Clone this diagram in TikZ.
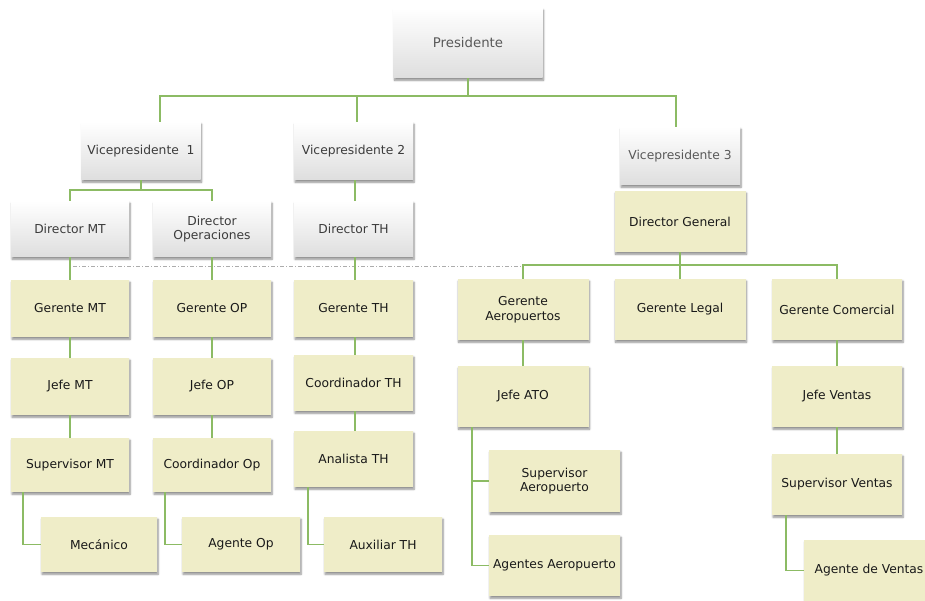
\documentclass[tikz,border=0pt]{standalone}
\usepackage{fontspec}
\setmainfont{DejaVu Sans}
\usetikzlibrary{calc,shadows,shadows.blur}

\definecolor{linegreen}{HTML}{8CBB64}
\definecolor{boxkhaki}{HTML}{EFEDC8}
\definecolor{boxgrey}{HTML}{DEDEDE}
\definecolor{txtgrey}{HTML}{3C3C3C}

\tikzset{
  unit/.style={x=1pt,y=-1pt},
  orgbox/.style={rectangle, align=center, inner xsep=2pt, inner ysep=2pt,
    font={\fontsize{12.3}{14.5}\selectfont},
    blur shadow={shadow xshift=1pt, shadow yshift=-2.2pt, shadow blur radius=2pt,
                 shadow blur steps=6, shadow opacity=45}},
  greybox/.style={orgbox, top color=white, middle color=white, bottom color=boxgrey, text=txtgrey},
  khakibox/.style={orgbox, fill=boxkhaki, text=black!90},
  sz/.style 2 args={minimum width=#1pt, minimum height=#2pt},
  conn/.style={draw=linegreen, line width=1.6pt},
  guide/.style={draw=gray!65, line width=0.8pt, dash pattern=on 4pt off 2pt on 1pt off 2pt}
}

\begin{document}
\begin{tikzpicture}[unit]
\useasboundingbox (0,0) rectangle (925,601);
\clip (0,0) rectangle (925,601);

% top levels
\node[greybox, sz={149}{70}, font={\fontsize{13.3}{15}\selectfont}, text=black!65] (P) at (468,43) {Presidente};
\node[greybox, sz={119}{58}] (V1) at (141,151) {Vicepresidente~~1};
\node[greybox, sz={119}{58}] (V2) at (353.5,151) {Vicepresidente 2};
\node[greybox, sz={120}{58}, text=black!65] (V3) at (680,156) {Vicepresidente 3};

% directors
\node[greybox, sz={118}{56}] (DMT) at (70,229) {Director MT};
\node[greybox, sz={118}{56}] (DOP) at (212,229) {Director\\Operaciones};
\node[greybox, sz={119}{56}] (DTH) at (353.5,229) {Director TH};
\node[khakibox, sz={131}{61}] (DG) at (680,221.5) {Director General};

% managers
\node[khakibox, sz={118}{57}] (GMT) at (70,308.5) {Gerente MT};
\node[khakibox, sz={118}{57}] (GOP) at (212,308.5) {Gerente OP};
\node[khakibox, sz={119}{57}] (GTH) at (353.5,308.5) {Gerente TH};
\node[khakibox, sz={131}{61}] (GAer) at (523,309.5) {Gerente\\Aeropuertos};
\node[khakibox, sz={131}{61}] (GLeg) at (680,309.5) {Gerente Legal};
\node[khakibox, sz={130}{61}] (GCom) at (837,309.5) {Gerente Comercial};

% heads
\node[khakibox, sz={118}{57}] (JMT) at (70,386.5) {Jefe MT};
\node[khakibox, sz={118}{57}] (JOP) at (212,386.5) {Jefe OP};
\node[khakibox, sz={119}{56}] (CTH) at (353.5,383) {Coordinador TH};
\node[khakibox, sz={131}{61}] (JATO) at (523,396.5) {Jefe ATO};
\node[khakibox, sz={130}{61}] (JVen) at (837,396.5) {Jefe Ventas};

% supervisors
\node[khakibox, sz={118}{54}] (SMT) at (70,465) {Supervisor MT};
\node[khakibox, sz={118}{54}] (COp) at (212,465) {Coordinador Op};
\node[khakibox, sz={119}{56}] (ATH) at (353.5,459) {Analista TH};
\node[khakibox, sz={131}{62}] (SAer) at (554.5,481) {Supervisor\\Aeropuerto};
\node[khakibox, sz={131}{61}] (AAer) at (554.5,565.5) {Agentes Aeropuerto};
\node[khakibox, sz={130}{61}] (SVen) at (837,484.5) {Supervisor Ventas};

% staff
\node[khakibox, sz={116}{55}] (Mec) at (99,544.5) {Mecánico};
\node[khakibox, sz={118}{55}] (AOp) at (241,544.5) {Agente Op};
\node[khakibox, sz={118}{55}] (Aux) at (383,544.5) {Auxiliar TH};
\node[khakibox, sz={130}{61}] (AVen) at (869,570.5) {Agente de Ventas};

% bus lines
\coordinate (pb) at ($(P.south)+(0,18)$);
\coordinate (vb) at ($(V1.south)+(0,10)$);
\coordinate (gb) at ($(DG.south)+(0,13)$);
\coordinate (gs) at (73,266);

% dashed guide line
\draw[guide] (gs) -- (GAer.north |- gs);

% president to vice presidents
\draw[conn] (P.south) -- (pb);
\draw[conn] (V1.north) ++(19,0) |- (pb);
\draw[conn] (V3.north) ++(-4,0) |- (pb);
\draw[conn] (V2.north) ++(3.5,0) -- ++(0,-26);

% vice presidents to directors
\draw[conn] (V1.south) -- (vb);
\draw[conn] (DMT.north) |- (vb);
\draw[conn] (DOP.north) |- (vb);
\draw[conn] (V2.south) ++(1.5,0) -- ($(DTH.north)+(1.5,0)$);

% directors to managers
\draw[conn] (DMT.south) -- (GMT.north);
\draw[conn] (DOP.south) -- (GOP.north);
\draw[conn] (DTH.south) ++(1.5,0) -- ($(GTH.north)+(1.5,0)$);
\draw[conn] (DG.south) -- (gb);
\draw[conn] (GAer.north) |- (gb);
\draw[conn] (GCom.north) |- (gb);
\draw[conn] (GLeg.north) -- (gb);

% vertical chains
\draw[conn] (GMT.south) -- (JMT.north);
\draw[conn] (JMT.south) -- (SMT.north);
\draw[conn] (GOP.south) -- (JOP.north);
\draw[conn] (JOP.south) -- (COp.north);
\draw[conn] (GTH.south) ++(1.5,0) -- ($(CTH.north)+(1.5,0)$);
\draw[conn] (CTH.south) ++(1.5,0) -- ($(ATH.north)+(1.5,0)$);
\draw[conn] (GAer.south) -- (JATO.north);
\draw[conn] (GCom.south) -- (JVen.north);
\draw[conn] (JVen.south) -- (SVen.north);

% side branches
\draw[conn] (SMT.south) ++(-47,0) |- (Mec.west);
\draw[conn] (COp.south) ++(-47,0) |- (AOp.west);
\draw[conn] (ATH.south) ++(-45.5,0) |- (Aux.west);
\draw[conn] (JATO.south) ++(-51,0) |- (SAer.west);
\draw[conn] (JATO.south) ++(-51,0) |- (AAer.west);
\draw[conn] (SVen.south) ++(-51,0) |- (AVen.west);

\end{tikzpicture}
\end{document}
